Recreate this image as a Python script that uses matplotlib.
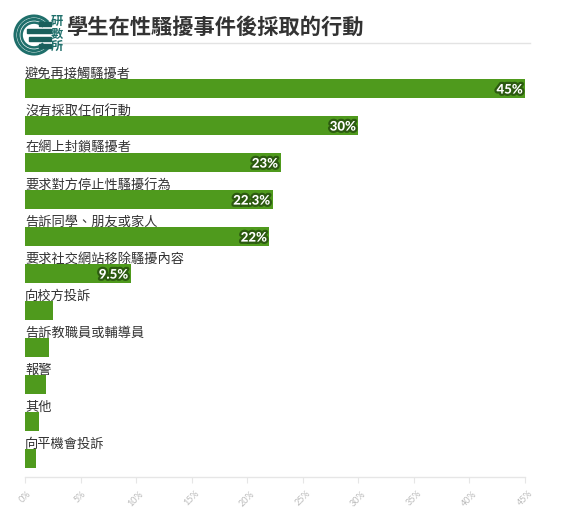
import matplotlib
matplotlib.use('Agg')
import matplotlib.pyplot as plt
import matplotlib.patheffects as pe
from matplotlib.patches import Arc, Rectangle

plt.rcParams['font.family'] = ['Noto Sans CJK TC', 'DejaVu Sans']

title = '學生在性騷擾事件後採取的行動'
categories = ['避免再接觸騷擾者', '沒有採取任何行動', '在網上封鎖騷擾者',
              '要求對方停止性騷擾行為', '告訴同學、朋友或家人', '要求社交網站移除騷擾內容',
              '向校方投訴', '告訴教職員或輔導員', '報警', '其他', '向平機會投訴']
values = [45, 30, 23, 22.3, 22, 9.5, 2.5, 2.2, 1.9, 1.3, 1.0]
value_labels = ['45%', '30%', '23%', '22.3%', '22%', '9.5%', '', '', '', '', '']
ticks = [0, 5, 10, 15, 20, 25, 30, 35, 40, 45]
tick_labels = ['0%', '5%', '10%', '15%', '20%', '25%', '30%', '35%', '40%', '45%']

W, H = 565, 510
fig = plt.figure(figsize=(W / 100, H / 100), dpi=100)
fig.patch.set_facecolor('white')

ax_left, ax_right, ax_top, ax_bottom = 25, 525, 52, 478
ax = fig.add_axes([ax_left / W, 1 - ax_bottom / H, (ax_right - ax_left) / W,
                   (ax_bottom - ax_top) / H])
pitch = 37.0
first_center = 89.5
ax.set_ylim((ax_bottom - first_center) / pitch, (ax_top - first_center) / pitch)
ax.set_xlim(0, 45)

ypos = list(range(len(values)))
green = '#4f9a1d'
ax.barh(ypos, values, height=0.52, color=green, edgecolor='none')

for i, (cat, v, lab) in enumerate(zip(categories, values, value_labels)):
    ax.text(0, i - 0.31, cat, ha='left', va='baseline', fontsize=9.5,
            color='#333333', clip_on=False)
    if lab:
        ax.text(v - 0.2, i + 0.03, lab, ha='right', va='center', color='white',
                fontsize=9.5, fontweight='black', family=['Lato', 'DejaVu Sans'],
                path_effects=[pe.withStroke(linewidth=3.2, foreground='#2c5a10')])

for s in ['top', 'right', 'left']:
    ax.spines[s].set_visible(False)
ax.spines['bottom'].set_color('#e6e6e6')
ax.spines['bottom'].set_linewidth(1)
ax.set_yticks([])
ax.set_xticks(ticks)
ax.set_xticklabels(tick_labels, rotation=45, fontsize=6.5, color='#bbbbbb',
                   family=['Lato', 'DejaVu Sans'])
ax.tick_params(axis='x', length=4, color='#e6e6e6', pad=4)

# Title
fig.text(66 / W, 1 - 27 / H, title, fontsize=15.3, fontweight='bold',
         color='#333333', va='center', ha='left')
fig.add_artist(plt.Line2D([62 / W, 530 / W], [1 - 44 / H, 1 - 44 / H],
                          color='#e3e3e3', linewidth=1))

# Logo
lax = fig.add_axes([8 / W, 1 - 62 / H, 56 / W, 56 / H])
lax.set_xlim(8, 64)
lax.set_ylim(62, 6)
lax.set_aspect('equal')
lax.axis('off')
teal = '#1f6f6b'
for r, lw in [(19.0, 2.2), (15.7, 2.0), (12.4, 1.8)]:
    lax.add_patch(Arc((34, 36), 2 * r, 2 * r, theta1=42, theta2=318,
                      color=teal, linewidth=lw))
for (x0, y0, w) in [(39, 22.5, 12), (27, 30, 24), (29, 37.5, 22), (39, 45, 12)]:
    lax.add_patch(Rectangle((x0, y0), w, 4.0, color='#1a5f5c'))
for k, ch in enumerate('研數所'):
    lax.text(56.5, 21.5 + 12.5 * k, ch, fontsize=8.8, fontweight='bold', color=teal,
             ha='center', va='center')

fig.savefig('out.png', dpi=100, facecolor='white')
